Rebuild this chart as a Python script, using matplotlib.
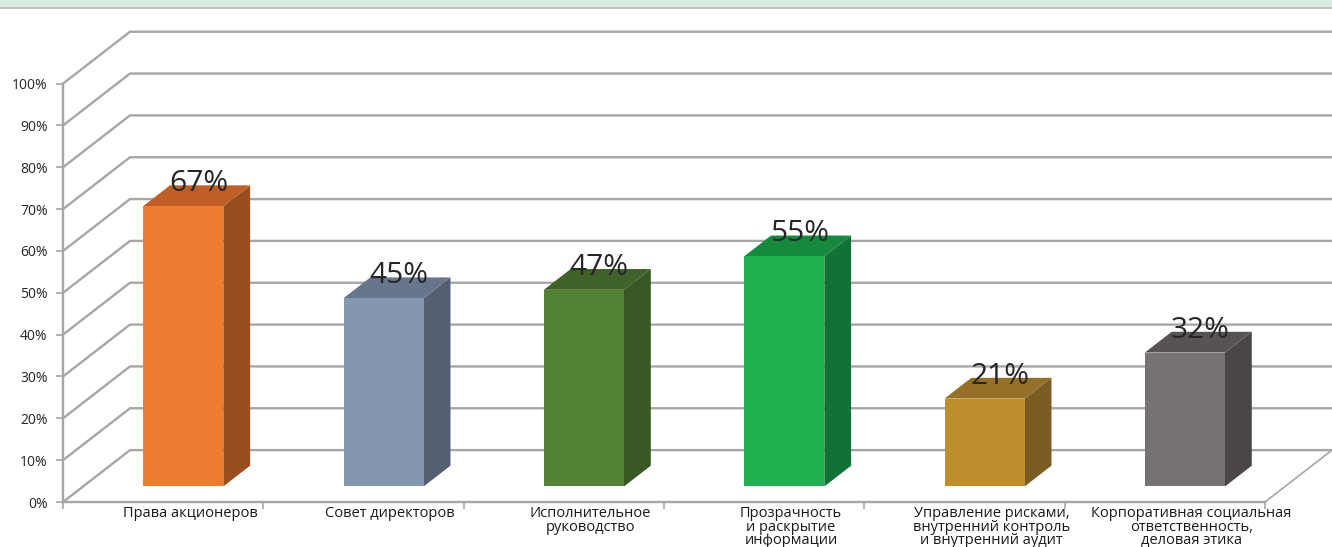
import numpy as np
import matplotlib.pyplot as plt
from matplotlib.patches import Polygon, Rectangle

categories = ["Права акционеров", "Совет директоров", "Исполнительное\nруководство",
              "Прозрачность\nи раскрытие\nинформации",
              "Управление рисками,\nвнутренний контроль\nи внутренний аудит",
              "Корпоративная социальная\nответственность,\nделовая этика"]
values = [67, 45, 47, 55, 21, 32]
front_colors = ["#ED7D31", "#8497B0", "#548235", "#21B04E", "#BF8F2D", "#767271"]
top_colors = ["#BF5F27", "#66768C", "#3E6228", "#16893F", "#947029", "#575353"]
side_colors = ["#974F20", "#535F71", "#375823", "#127236", "#7A5C24", "#4A4646"]
yticks = np.arange(0, 101, 10)

plt.rcParams['font.family'] = ['Open Sans', 'DejaVu Sans']

# oblique depth offset in data units (x per unit depth, y per unit depth)
DX = 0.3344
DY = 12.4
GRID = "#a6a6a6"


def proj(x, y, d):
    return x + d * DX, y + d * DY


fig = plt.figure(figsize=(13.32, 5.47), dpi=100)
# green band at the very top
fig.patches.append(Rectangle((0, 1 - 7 / 547), 1, 7 / 547, transform=fig.transFigure,
                             facecolor="#d6ebdd", edgecolor="none"))
fig.lines.append(plt.Line2D([0, 1], [1 - 8 / 547, 1 - 8 / 547], transform=fig.transFigure,
                            color="#b5b5b5", lw=1.2))

ax = fig.add_axes([63 / 1332, 45 / 547, 1202 / 1332, 418.4 / 547])
n = len(categories)
ax.set_xlim(0, n)
ax.set_ylim(0, 100)

# walls: diagonal + back horizontal gridlines
for v in yticks:
    x1, y1 = proj(0, v, 1)
    x2, _ = proj(n, v, 1)
    ax.plot([0, x1, x2], [v, y1, y1], color=GRID, lw=1.7, clip_on=False, zorder=1)
# right floor edge
xr, yr = proj(n, 0, 1)
ax.plot([n, xr], [0, yr], color=GRID, lw=1.2, clip_on=False, zorder=1)

# 3d bars
t0, t1 = 0.3, 0.7
w = 0.4
for i, v in enumerate(values):
    xl = i + 0.5 - w / 2
    xr_ = i + 0.5 + w / 2
    a = proj(xl, 0, t0)
    b = proj(xr_, 0, t0)
    c = proj(xr_, v, t0)
    d = proj(xl, v, t0)
    b2 = proj(xr_, 0, t1)
    c2 = proj(xr_, v, t1)
    d2 = proj(xl, v, t1)
    ax.add_patch(Polygon([b, b2, c2, c], closed=True, facecolor=side_colors[i],
                         edgecolor="none", zorder=3, clip_on=False))
    ax.add_patch(Polygon([d, c, c2, d2], closed=True, facecolor=top_colors[i],
                         edgecolor="none", zorder=3, clip_on=False))
    ax.add_patch(Polygon([a, b, c, d], closed=True, facecolor=front_colors[i],
                         edgecolor="none", zorder=4, clip_on=False))
    lx, ly = proj(i + 0.5, v, 0.5)
    ax.text(lx + 0.01, ly + 2.9, f"{v}%", ha="center", va="center", fontsize=21.5,
            color="#262626", zorder=5)
    cx, _ = proj(i + 0.5, 0, 0.4)
    ax.text(cx, -1.0, categories[i], ha="center", va="top", fontsize=10.5,
            color="#1a1a1a", linespacing=0.86, clip_on=False)

ax.set_yticks(yticks)
ax.set_yticklabels([f"{v}%" for v in yticks], fontsize=10, color="#262626")
ax.set_xticks(np.arange(0, n + 1))
ax.set_xticklabels([])
ax.tick_params(axis="both", colors=GRID, length=5, width=1.2, labelcolor="#262626")
ax.tick_params(axis="y", pad=6)
for s in ["top", "right"]:
    ax.spines[s].set_visible(False)
for s in ["left", "bottom"]:
    ax.spines[s].set_color(GRID)
    ax.spines[s].set_linewidth(1.7)
ax.patch.set_visible(False)

fig.savefig("out.png", dpi=100)
